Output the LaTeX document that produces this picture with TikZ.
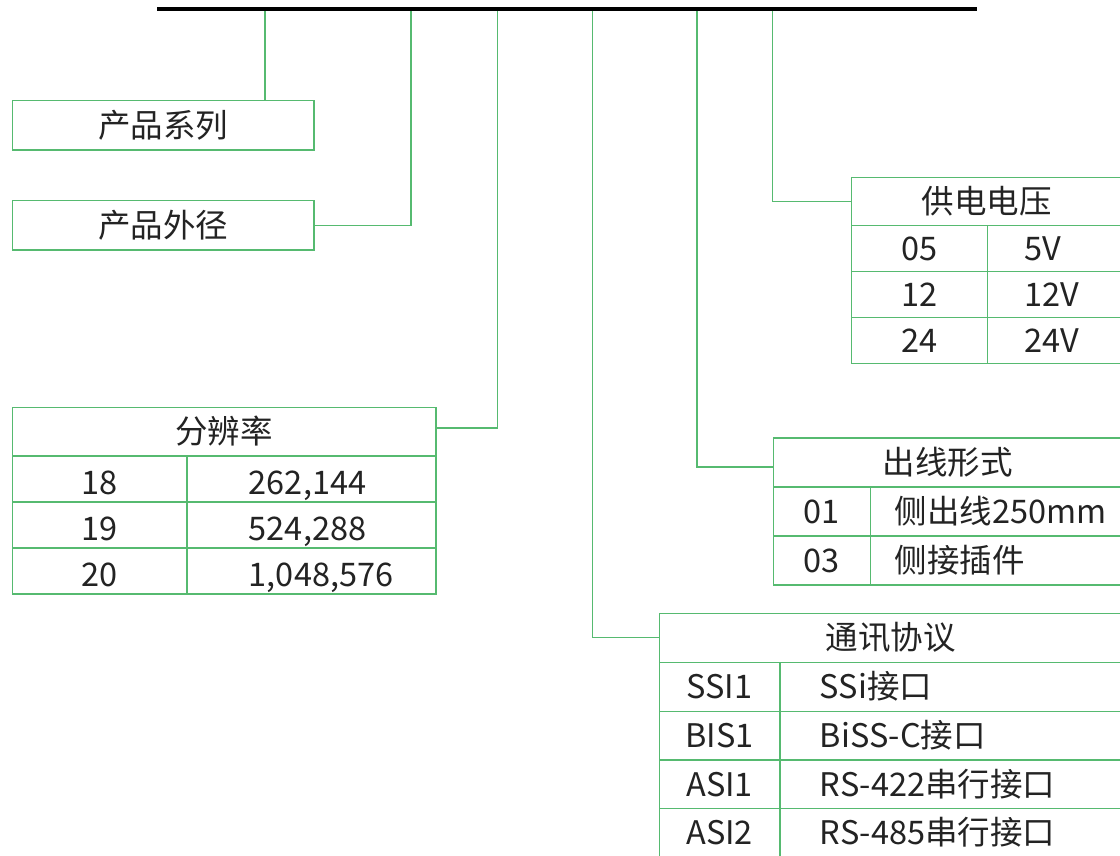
\documentclass[tikz,border=0pt]{standalone}
\usepackage{fontspec}
\setmainfont{Noto Sans CJK SC}
\definecolor{lineGreen}{RGB}{86,186,112}
\definecolor{textGray}{RGB}{35,35,35}

\begin{document}
\begin{tikzpicture}[x=1pt, y=-1pt,
		font=\fontsize{32.5}{36}\selectfont, text=textGray,
		cell/.style={draw=lineGreen, line width=1.2pt, inner sep=0pt, anchor=north west,
			text height=23.7pt, text depth=0pt},
		lcell/.style={cell, align=left, inner xsep=#1},
		rescell/.style={cell, text height=30.7pt},
		wire/.style={draw=lineGreen, line width=1.2pt},
		bus/.style={line width=4pt, black}]

				\useasboundingbox (0,0) rectangle (1120,855);
				\clip (0,0) rectangle (1120,855);

				% top bar and its taps
				\coordinate (bus-l) at (157,9.3);
				\coordinate (bus-r) at (977.3,9.3);
				\coordinate (bus-series) at (265,9.3);
				\coordinate (bus-dia) at (411,9.3);
				\coordinate (bus-res) at (497.7,9.3);
				\coordinate (bus-proto) at (592.7,9.3);
				\coordinate (bus-conn) at (697,9.3);
				\coordinate (bus-pw) at (772.3,9.3);

				\node [cell, minimum width=301.6, minimum height=49.3] (series) at (11.7,100) {产品系列};
				\node [cell, minimum width=301.6, minimum height=49.3] (dia) at (11.7,200) {产品外径};

				% resolution
				\node [cell, minimum width=423.6, minimum height=48.6] (res-head) at (11.7,406.7) {分辨率};
				\node [rescell, minimum width=174.6, minimum height=46] (res-k1) at (11.7,455.3) {18};
				\node [rescell, minimum width=249, minimum height=46] (res-v1) at (186.3,455.3) {\makebox[125pt][l]{262,144}};
				\node [rescell, minimum width=174.6, minimum height=46] (res-k2) at (11.7,501.3) {19};
				\node [rescell, minimum width=249, minimum height=46] (res-v2) at (186.3,501.3) {\makebox[125pt][l]{524,288}};
				\node [rescell, minimum width=174.6, minimum height=46] (res-k3) at (11.7,547.3) {20};
				\node [rescell, minimum width=249, minimum height=46] (res-v3) at (186.3,547.3) {\makebox[125pt][l]{1,048,576}};

				% supply voltage
				\node [cell, minimum width=270.5, minimum height=48.3] (pw-head) at (850.7,176.7) {供电电压};
				\node [cell, minimum width=136, minimum height=46] (pw-k1) at (850.7,225) {05};
				\node [lcell=37.3, text width=100, minimum height=46] (pw-v1) at (986.7,225) {5V};
				\node [cell, minimum width=136, minimum height=46] (pw-k2) at (850.7,271) {12};
				\node [lcell=37.3, text width=100, minimum height=46] (pw-v2) at (986.7,271) {12V};
				\node [cell, minimum width=136, minimum height=46] (pw-k3) at (850.7,317) {24};
				\node [lcell=37.3, text width=100, minimum height=46] (pw-v3) at (986.7,317) {24V};

				% cable outlet
				\node [cell, minimum width=348.5, minimum height=49] (conn-head) at (772.7,437.3) {出线形式};
				\node [cell, minimum width=97, minimum height=49] (conn-k1) at (772.7,486.3) {01};
				\node [lcell=24.3, text width=230, minimum height=49] (conn-v1) at (869.7,486.3) {侧出线250mm};
				\node [cell, minimum width=97, minimum height=49] (conn-k2) at (772.7,535.3) {03};
				\node [lcell=24.3, text width=230, minimum height=49] (conn-v2) at (869.7,535.3) {侧接插件};

				% protocol
				\node [cell, minimum width=462.5, minimum height=49] (proto-head) at (658.7,612.7) {通讯协议};
				\node [cell, minimum width=120.6, minimum height=48.8] (proto-k1) at (658.7,661.7) {SSI1};
				\node [lcell=40, text width=300, minimum height=48.8] (proto-v1) at (779.3,661.7) {SSi接口};
				\node [cell, minimum width=120.6, minimum height=48.8] (proto-k2) at (658.7,710.5) {BIS1};
				\node [lcell=40, text width=300, minimum height=48.8] (proto-v2) at (779.3,710.5) {BiSS-C接口};
				\node [cell, minimum width=120.6, minimum height=48.8] (proto-k3) at (658.7,759.3) {ASI1};
				\node [lcell=40, text width=300, minimum height=48.8] (proto-v3) at (779.3,759.3) {RS-422串行接口};
				\node [cell, minimum width=120.6, minimum height=48.8] (proto-k4) at (658.7,808.1) {ASI2};
				\node [lcell=40, text width=300, minimum height=48.8] (proto-v4) at (779.3,808.1) {RS-485串行接口};

				\draw [wire] (bus-series) -- (bus-series |- series.north);
				\draw [wire] (bus-dia) |- (dia.east);
				\draw [wire] (bus-res) |- ([yshift=3.7pt]res-head.east);
				\draw [wire] (bus-proto) |- (proto-head.west);
				\draw [wire] (bus-conn) |- ([yshift=-4.5pt]conn-head.west);
				\draw [wire] (bus-pw) |- (pw-head.west);

				\draw [bus] (bus-l) -- (bus-r);

			\end{tikzpicture}
\end{document}
